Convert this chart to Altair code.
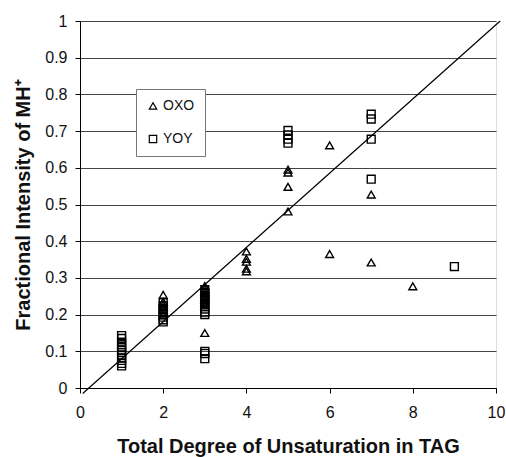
import altair as alt
import pandas as pd

# OXO (triangles)
oxo_x = [2, 2, 2, 2, 2, 2, 2,
         3, 3, 3, 3, 3, 3, 3, 3, 3,
         4, 4, 4, 4, 4,
         5, 5, 5, 5,
         6, 6,
         7, 7,
         8]
oxo_y = [0.254, 0.235, 0.228, 0.220, 0.213, 0.205, 0.198,
         0.278, 0.270, 0.262, 0.255, 0.247, 0.240, 0.232, 0.225, 0.150,
         0.372, 0.352, 0.344, 0.325, 0.318,
         0.595, 0.587, 0.548, 0.481,
         0.661, 0.365,
         0.527, 0.342,
         0.277]

# YOY (squares)
yoy_x = [1, 1, 1, 1, 1, 1, 1, 1, 1, 1, 1, 1,
         2, 2, 2, 2, 2, 2, 2, 2,
         3, 3, 3, 3, 3, 3, 3, 3, 3, 3, 3, 3, 3,
         5, 5, 5, 5,
         7, 7, 7, 7,
         9]
yoy_y = [0.143, 0.135, 0.125, 0.118, 0.110, 0.103, 0.097, 0.090, 0.082, 0.075, 0.067, 0.060,
         0.232, 0.224, 0.216, 0.209, 0.200, 0.193, 0.186, 0.180,
         0.268, 0.260, 0.252, 0.245, 0.237, 0.230, 0.222, 0.215, 0.207, 0.200, 0.100, 0.094, 0.080,
         0.702, 0.690, 0.678, 0.667,
         0.746, 0.733, 0.678, 0.569,
         0.331]

# diagonal reference line
line_x = [0.065, 10.1]
line_y = [-0.015, 1.0]

series = ["OXO", "YOY"]
x_ticks = [0, 2, 4, 6, 8, 10]
y_ticks = [0, 0.1, 0.2, 0.3, 0.4, 0.5, 0.6, 0.7, 0.8, 0.9, 1]

pts = pd.DataFrame({
    "x": oxo_x + yoy_x,
    "y": oxo_y + yoy_y,
    "s": [series[0]] * len(oxo_x) + [series[1]] * len(yoy_x),
})
ln = pd.DataFrame({"x": line_x, "y": line_y})

FONT = "Liberation Sans"

xscale = alt.Scale(domain=[0, 10], nice=False, zero=False)
yscale = alt.Scale(domain=[0, 1], nice=False, zero=False)

xaxis = alt.Axis(values=x_ticks, title="Total Degree of Unsaturation in TAG",
                 grid=False, tickSize=5, labelPadding=11, titlePadding=16,
                 domainColor="black", tickColor="black", labelColor="#111",
                 labelFontSize=16, titleFontSize=20, titleFontWeight="bold",
                 labelFont=FONT, titleFont=FONT, titleColor="#111",
                 labelFlush=False, labelOverlap=False)
yaxis = alt.Axis(values=y_ticks, title="Fractional Intensity of MH⁺",
                 grid=True, gridColor="#444", gridWidth=1,
                 tickSize=5, labelPadding=8, titlePadding=11,
                 domainColor="black", tickColor="black", labelColor="#111",
                 labelFontSize=16, titleFontSize=20, titleFontWeight="bold",
                 labelFont=FONT, titleFont=FONT, titleColor="#111",
                 labelFlush=False, labelOverlap=False,
                 labelExpr="format(datum.value, '.1~f')")

line = alt.Chart(ln).mark_line(color="black", strokeWidth=1.2, clip=False).encode(
    x=alt.X("x:Q", scale=xscale, axis=xaxis),
    y=alt.Y("y:Q", scale=yscale, axis=yaxis),
)

points = alt.Chart(pts).mark_point(filled=False, color="black", strokeWidth=1.4, size=62, opacity=1).encode(
    x=alt.X("x:Q", scale=xscale, axis=xaxis),
    y=alt.Y("y:Q", scale=yscale, axis=yaxis),
    shape=alt.Shape("s:N",
                    scale=alt.Scale(domain=series, range=["triangle-up", "square"]),
                    legend=alt.Legend(title=None, orient="none", legendX=56, legendY=68,
                                      direction="vertical", fillColor="white",
                                      strokeColor="#777", padding=10, rowPadding=19,
                                      labelFontSize=14, labelFont=FONT, labelColor="#111",
                                      symbolSize=55, symbolStrokeWidth=1.2,
                                      symbolStrokeColor="black", symbolFillColor="white",
                                      labelOffset=3)),
)

chart = alt.layer(line, points).properties(
    width=416, height=367,
    autosize=alt.AutoSizeParams(type="none"),
    padding={"left": 80, "top": 21, "right": 10, "bottom": 69},
).configure_view(stroke="#999", strokeWidth=1).configure(background="white")

chart.save("out.html", embed_options={"renderer": "svg", "actions": False})
